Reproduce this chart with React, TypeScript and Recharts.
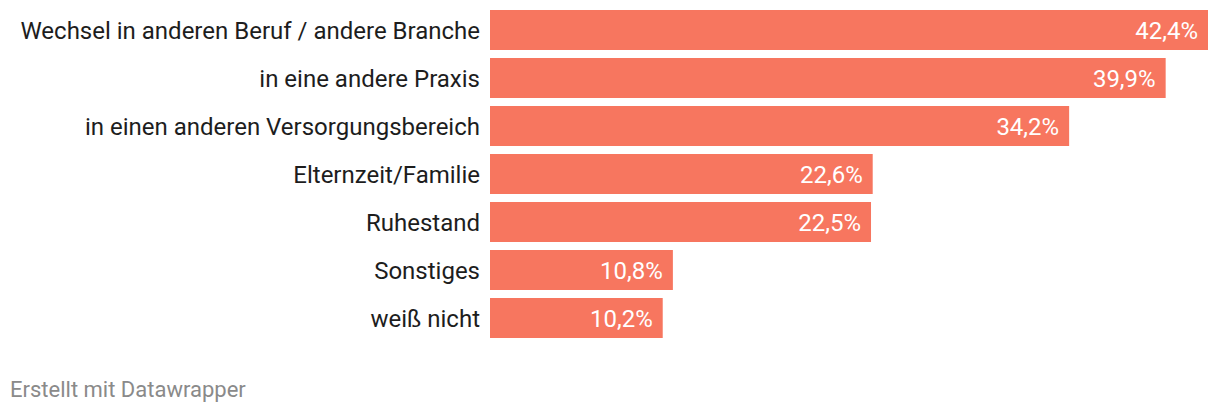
import React from "react";
import { BarChart, Bar, XAxis, YAxis, LabelList } from "recharts";

const categories = [
  "Wechsel in anderen Beruf / andere Branche",
  "in eine andere Praxis",
  "in einen anderen Versorgungsbereich",
  "Elternzeit/Familie",
  "Ruhestand",
  "Sonstiges",
  "weiß nicht",
];
const values = [42.4, 39.9, 34.2, 22.6, 22.5, 10.8, 10.2];

const data = categories.map((c, i) => ({ name: c, value: values[i] }));

const FONT = "Roboto, sans-serif";

const fmt = (v: any) => `${String(v).replace(".", ",")}%`;

export default function App() {
  return (
    <div style={{ position: "absolute", left: 0, top: 0, width: 1220, height: 414, background: "#fff", fontFamily: FONT }}>
      <BarChart
        width={1220}
        height={342}
        data={data}
        layout="vertical"
        margin={{ top: 6, right: 12, bottom: 0, left: 0 }}
        barSize={40}
      >
        <XAxis type="number" domain={[0, 42.4]} hide />
        <YAxis
          type="category"
          dataKey="name"
          width={490}
          axisLine={false}
          tickLine={false}
          tickSize={0}
          tickMargin={10}
          tick={{ fill: "#1d1d1d", fontSize: 24, fontFamily: FONT }}
        />
        <Bar dataKey="value" fill="#f7765f" isAnimationActive={false}>
          <LabelList
            dataKey="value"
            position="insideRight"
            offset={10}
            formatter={fmt}
            style={{ fill: "#ffffff", fontSize: 24, fontFamily: FONT }}
          />
        </Bar>
      </BarChart>
      <div style={{ position: "absolute", left: 10, top: 377, fontSize: 22, lineHeight: "normal", color: "#8a8a8a", fontFamily: FONT, whiteSpace: "nowrap" }}>
        Erstellt mit Datawrapper
      </div>
    </div>
  );
}
